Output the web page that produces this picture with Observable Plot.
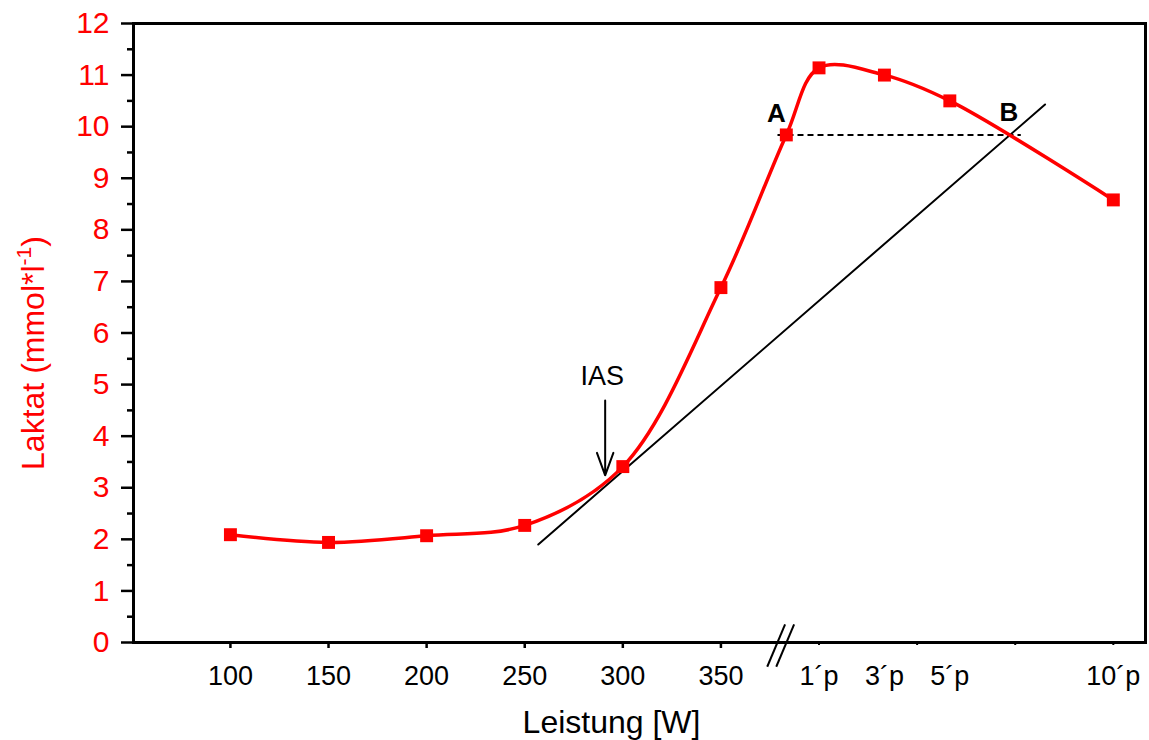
<!DOCTYPE html>
<html>
<head>
<meta charset="utf-8">
<script src="https://cdn.jsdelivr.net/npm/d3@7"></script>
<script src="https://cdn.jsdelivr.net/npm/@observablehq/plot@0.6"></script>
<style>
  html, body { margin: 0; padding: 0; background: #fff; }
</style>
</head>
<body>
<div id="chart"></div>
<script>
// Step test: power stages (W) and blood lactate (mmol/l)
const watts = [100, 150, 200, 250, 300, 350];
const lactateStage = [2.09, 1.94, 2.07, 2.27, 3.41, 6.88];

// Recovery: minutes after stopping (0 = end of exercise, point A)
const pauseMinutes = [0, 1, 3, 5, 10];
const lactatePause = [9.84, 11.14, 11.0, 10.5, 8.58];

// Axis ticks
const wattTicks = [100, 150, 200, 250, 300, 350];
const pauseTickMinutes = [1, 3, 5, 10];
const pauseTickLabels = ["1´p", "3´p", "5´p", "10´p"];
const pauseGridTicks = [400, 450, 500, 550];
const yTicks = d3.range(0, 13);
const yMinorTicks = d3.range(0.5, 12, 1);

// Tangent through the individual anaerobic threshold (IAS)
const tangentX = [256.9, 515.2];
const tangentY = [1.90, 10.43];
const iasX = 291;
const iasArrowY = [4.69, 3.24];

// Axis break between the load stages and the recovery minutes
const breakAt = 380;

// After the break, minute 1 sits at 400 on the axis and each minute spans 50/3 units
const pausePos = m => 400 + (m - 1) * 50 / 3;

const curve = [
  ...watts.map((w, i) => ({x: w, y: lactateStage[i]})),
  ...pauseMinutes.map((m, i) => ({x: pausePos(m), y: lactatePause[i]}))
];

const pointA = {x: pausePos(pauseMinutes[0]), y: lactatePause[0]};
const slope = (tangentY[1] - tangentY[0]) / (tangentX[1] - tangentX[0]);
const pointB = {x: tangentX[0] + (pointA.y - tangentY[0]) / slope, y: pointA.y};

const pauseLabelAt = new Map(pauseTickMinutes.map((m, i) => [pausePos(m), pauseTickLabels[i]]));

const breakMarks = [0, 4.6].map(o => ({
  x1: breakAt - 6.4 + o, y1: -0.47,
  x2: breakAt + 2.7 + o, y2: 0.35
}));

const chart = Plot.plot({
  width: 1149,
  height: 740,
  marginLeft: 133,
  marginRight: 4,
  marginTop: 23,
  marginBottom: 98,
  style: {fontFamily: "'Liberation Sans', Arial, sans-serif", background: "white", overflow: "visible"},
  x: {domain: [50.6, 566.4], axis: null},
  y: {domain: [0, 12], axis: null},
  marks: [
    Plot.frame({stroke: "black", strokeWidth: 3}),

    // y axis: red labels, black ticks, minor ticks at the halves
    Plot.axisY(yTicks, {anchor: "left", tickSize: 12, tickPadding: 12, stroke: "black", strokeWidth: 2.5, fill: "red", fontSize: 30, tickFormat: d => String(d), label: null}),
    Plot.axisY(yMinorTicks, {anchor: "left", tickSize: 6, stroke: "black", strokeWidth: 2.5, tickFormat: () => "", label: null}),

    // x axis: load stages, then recovery minutes after the break
    Plot.axisX(wattTicks, {anchor: "bottom", tickSize: 6, tickPadding: 17, stroke: "black", strokeWidth: 2.5, fill: "black", fontSize: 27, tickFormat: d => String(d), label: null}),
    Plot.axisX(pauseGridTicks, {anchor: "bottom", tickSize: 3, stroke: "black", strokeWidth: 2, tickFormat: () => "", label: null}),
    Plot.axisX([...pauseLabelAt.keys()], {anchor: "bottom", tickSize: 0, tickPadding: 23, fill: "black", fontSize: 27, tickFormat: d => pauseLabelAt.get(d), label: null}),
    Plot.link(breakMarks, {x1: "x1", y1: "y1", x2: "x2", y2: "y2", stroke: "black", strokeWidth: 2}),

    // tangent and the A–B level
    Plot.line(tangentX.map((x, i) => ({x, y: tangentY[i]})), {x: "x", y: "y", stroke: "black", strokeWidth: 2}),
    Plot.link([{x1: pointA.x - 4.5, x2: pointB.x + 5.5, y: pointA.y}], {x1: "x1", x2: "x2", y1: "y", y2: "y", stroke: "black", strokeWidth: 2, strokeDasharray: "6,4"}),

    // lactate curve
    Plot.line(curve, {x: "x", y: "y", stroke: "red", strokeWidth: 3.5, curve: "catmull-rom"}),
    Plot.dot(curve, {x: "x", y: "y", symbol: "square", fill: "red", r: 7.3}),

    // annotations
    Plot.arrow([{x: iasX, y1: iasArrowY[0], y2: iasArrowY[1]}], {x1: "x", x2: "x", y1: "y1", y2: "y2", stroke: "black", strokeWidth: 2, headLength: 18, headAngle: 40}),
    Plot.text([{x: iasX, y: iasArrowY[0]}], {x: "x", y: "y", text: () => "IAS", dx: -3, dy: -24, fontSize: 27, fill: "black"}),
    Plot.text([pointA], {x: "x", y: "y", text: () => "A", dx: -10, dy: -21, fontSize: 26, fontWeight: "bold", fill: "black"}),
    Plot.text([pointB], {x: "x", y: "y", text: () => "B", dx: -1, dy: -22, fontSize: 26, fontWeight: "bold", fill: "black"}),

    // axis titles
    Plot.text(["Leistung [W]"], {text: d => d, frameAnchor: "bottom", dx: -28, dy: 68, lineAnchor: "top", fontSize: 32, fill: "black"}),
    Plot.text(["Laktat (mmol*l"], {text: d => d, frameAnchor: "left", rotate: -90, dx: -100, dy: 20, lineAnchor: "middle", textAnchor: "middle", fontSize: 32, fill: "red"})
  ]
});

// superscript unit exponent on the y title
for (const t of chart.querySelectorAll("text")) {
  if (t.textContent === "Laktat (mmol*l") {
    const ns = "http://www.w3.org/2000/svg";
    const sup = document.createElementNS(ns, "tspan");
    sup.setAttribute("font-size", "21");
    sup.setAttribute("dy", "-13");
    sup.textContent = "-1";
    const close = document.createElementNS(ns, "tspan");
    close.setAttribute("dy", "13");
    close.textContent = ")";
    t.appendChild(sup);
    t.appendChild(close);
  }
}

document.getElementById("chart").appendChild(chart);
</script>
</body>
</html>
